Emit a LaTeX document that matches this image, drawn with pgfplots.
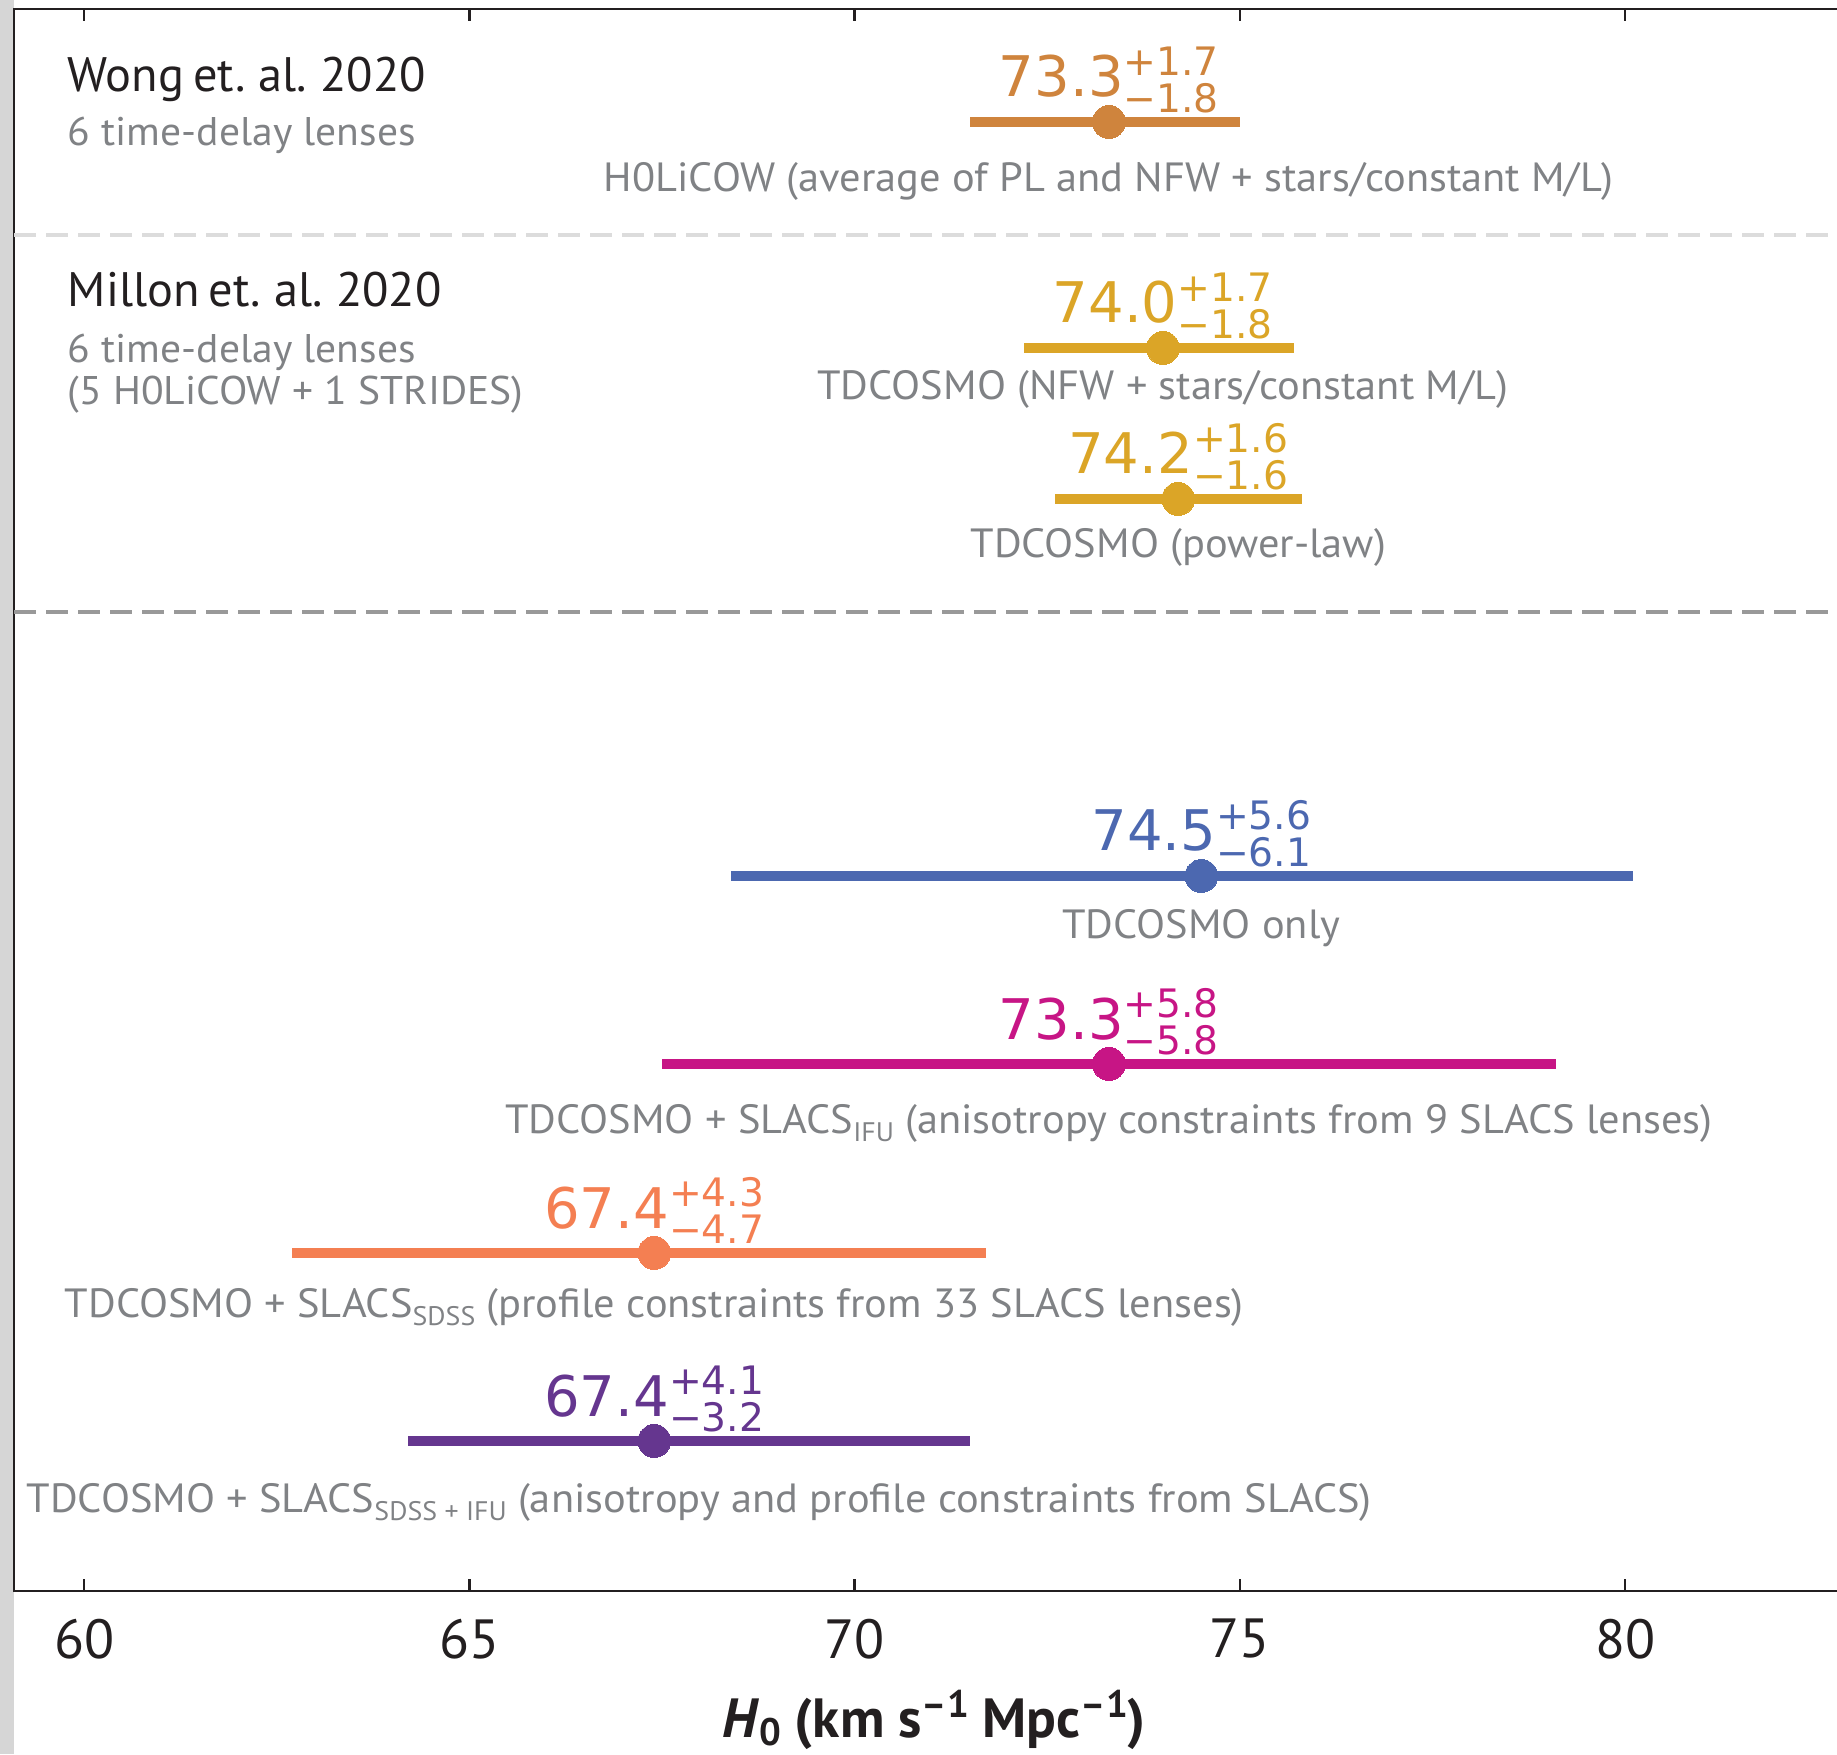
\documentclass[border=0pt]{standalone}
\usepackage{pgfplots}
\pgfplotsset{compat=1.18}
\usepackage{fontspec}
\setmainfont{PT Sans}
\newfontfamily\numfont{DejaVu Sans}
\newfontfamily\labfont{PT Sans}[FakeStretch=1.04]
\newfontfamily\headfont{PT Sans}[WordSpace=0.7]
\definecolor{axisblack}{HTML}{231F20}
\definecolor{graytext}{HTML}{808285}
\definecolor{darkdash}{HTML}{999999}
\definecolor{lightdash}{HTML}{DCDCDC}
\definecolor{strip}{HTML}{D6D6D6}
\definecolor{cWong}{HTML}{CF843D}
\definecolor{cMillon}{HTML}{DBA527}
\definecolor{cBlue}{HTML}{4C68B0}
\definecolor{cMag}{HTML}{C71585}
\definecolor{cOrange}{HTML}{F47F52}
\definecolor{cPurple}{HTML}{65368F}
\newcommand{\hval}[3]{{\numfont\fontsize{14pt}{14pt}\selectfont #1}{\numfont\fontsize{9.8pt}{9.8pt}\selectfont\rlap{\raisebox{5.3pt}{+#2}}\raisebox{-3.85pt}{−#3}}}
\newcommand{\gsub}[1]{\raisebox{-2.1pt}{\fontsize{6.7pt}{6.7pt}\selectfont #1}}
\tikzset{lab/.style={anchor=base, text=graytext, font=\labfont\fontsize{10.2pt}{10.2pt}\selectfont, inner sep=0pt},
 num/.style={anchor=base, inner sep=0pt},
 head/.style={anchor=base west, text=axisblack, font=\headfont\fontsize{12.1pt}{12.1pt}\selectfont, inner sep=0pt},
 hsub/.style={anchor=base west, text=graytext, font=\labfont\fontsize{10pt}{10pt}\selectfont, inner sep=0pt}}
\pgfplotsset{hbar/.style={only marks, mark=*, mark size=4.1pt, color=#1,
   mark options={fill=#1, draw=#1, line width=0pt},
   error bars/.cd, x dir=both, x explicit, error mark=none,
   error bar style={line width=2.5pt, color=#1}}}
\begin{document}
\begin{tikzpicture}
\useasboundingbox (-3.5pt,-40.75pt) rectangle (455.75pt,397.75pt);
\fill[strip] (-3.5pt,-40.75pt) rectangle (0pt,397.75pt);
\begin{scope}
\clip (-3.5pt,-40.75pt) rectangle (455.75pt,397.75pt);
\begin{axis}[
  at={(0pt,0pt)}, anchor=south west,
  scale only axis, width=460.57pt, height=395.5pt,
  xmin=59.09, xmax=83, ymin=0, ymax=1582,
  xtick={60,65,70,75,80}, ytick=\empty,
  tick align=inside, major tick length=3pt,
  axis line style={line width=0.7pt, color=axisblack},
  every tick/.style={line width=0.6pt, color=axisblack},
  xticklabel style={font=\fontsize{13.8pt}{13.8pt}\selectfont, text=axisblack, inner sep=0pt, yshift=-6.75pt, anchor=north},
  /pgf/number format/assume math mode=true,
  clip=false,
]
\draw[lightdash, line width=1pt, dash pattern=on 5.5pt off 2.5pt] (axis cs:59.09,1356) -- (axis cs:83,1356);
\draw[darkdash, line width=1pt, dash pattern=on 5.5pt off 2.5pt] (axis cs:59.09,979) -- (axis cs:83,979);

\addplot[hbar=cWong] coordinates {(73.3,1469) += (1.7,0) -= (1.8,0)};
\addplot[hbar=cMillon] coordinates {(74.0,1243) += (1.7,0) -= (1.8,0)};
\addplot[hbar=cMillon] coordinates {(74.2,1092) += (1.6,0) -= (1.6,0)};
\addplot[hbar=cBlue] coordinates {(74.5,715) += (5.6,0) -= (6.1,0)};
\addplot[hbar=cMag] coordinates {(73.3,527) += (5.8,0) -= (5.8,0)};
\addplot[hbar=cOrange] coordinates {(67.4,338) += (4.3,0) -= (4.7,0)};
\addplot[hbar=cPurple] coordinates {(67.4,150) += (4.1,0) -= (3.2,0)};

\node[num, text=cWong] at (axis cs:73.3,1494) {\hval{73.3}{1.7}{1.8}};
\node[num, text=cMillon] at (axis cs:74.0,1268) {\hval{74.0}{1.7}{1.8}};
\node[num, text=cMillon] at (axis cs:74.2,1117) {\hval{74.2}{1.6}{1.6}};
\node[num, text=cBlue] at (axis cs:74.5,740) {\hval{74.5}{5.6}{6.1}};
\node[num, text=cMag] at (axis cs:73.3,552) {\hval{73.3}{5.8}{5.8}};
\node[num, text=cOrange] at (axis cs:67.4,363) {\hval{67.4}{4.3}{4.7}};
\node[num, text=cPurple] at (axis cs:67.4,175) {\hval{67.4}{4.1}{3.2}};

\node[lab] at (axis cs:73.3,1399) {H0LiCOW (average of PL and NFW + stars/constant M/L)};
\node[lab] at (axis cs:74.0,1191) {TDCOSMO (NFW + stars/constant M/L)};
\node[lab] at (axis cs:74.2,1033) {TDCOSMO (power-law)};
\node[lab] at (axis cs:74.5,653) {TDCOSMO only};
\node[lab] at (axis cs:73.3,458) {TDCOSMO + SLACS\gsub{IFU} (anisotropy constraints from 9 SLACS lenses)};
\node[lab] at (axis cs:67.4,274) {TDCOSMO + SLACS\gsub{SDSS} (profile constraints from 33 SLACS lenses)};
\node[lab, anchor=base west] at (axis cs:59.243,79) {TDCOSMO + SLACS\gsub{SDSS + IFU} (anisotropy and profile constraints from SLACS)};

\node[head] at (axis cs:59.778,1499) {Wong et. al. 2020};
\node[hsub] at (axis cs:59.778,1445) {6 time-delay lenses};
\node[head] at (axis cs:59.778,1284) {Millon et. al. 2020};
\node[hsub] at (axis cs:59.778,1228) {6 time-delay lenses};
\node[hsub] at (axis cs:59.778,1186) {(5 H0LiCOW + 1 STRIDES)};

\node[anchor=base, inner sep=0pt, text=axisblack, font=\fontsize{13.8pt}{13.8pt}\selectfont\bfseries] at (axis cs:71.03,-146)
  {\textit{H}\raisebox{-2pt}{\fontsize{9.6pt}{9.6pt}\selectfont 0} (km s\raisebox{5pt}{\fontsize{9.6pt}{9.6pt}\selectfont –1} Mpc\raisebox{5pt}{\fontsize{9.6pt}{9.6pt}\selectfont –1})};
\end{axis}
\end{scope}
\end{tikzpicture}
\end{document}
